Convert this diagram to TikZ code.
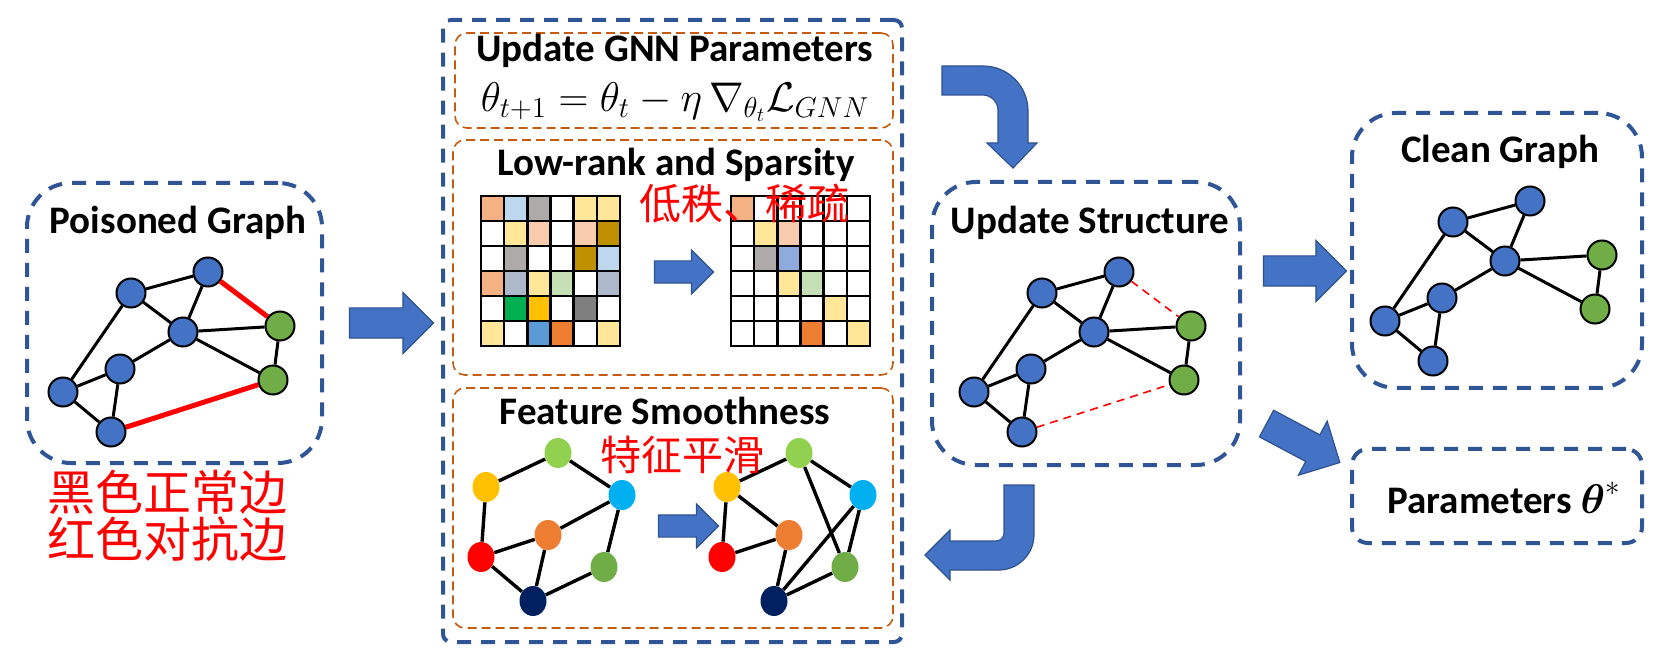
\documentclass[tikz,border=0pt]{standalone}
\usepackage{amsmath}
\usepackage{amssymb}
\usepackage{xcolor}
\usepackage{fontspec}
\setmainfont{Carlito}
\newfontfamily\cjk{Noto Sans CJK SC}
\usetikzlibrary{shapes.geometric,shapes.arrows,fit}

\definecolor{nodeblue}{HTML}{4472C4}
\definecolor{nodegreen}{HTML}{70AD47}
\definecolor{boxblue}{HTML}{2F5597}
\definecolor{boxorange}{HTML}{C55A11}
\definecolor{arrowedge}{HTML}{2F528F}
\definecolor{cpeach}{HTML}{F4B183}
\definecolor{cskyblue}{HTML}{BDD7EE}
\definecolor{cgray}{HTML}{AEAAAA}
\definecolor{cyellow}{HTML}{FFE699}
\definecolor{csalmon}{HTML}{F8CBAD}
\definecolor{cgold}{HTML}{BF9000}
\definecolor{cslate}{HTML}{ADB9CA}
\definecolor{cmint}{HTML}{C5E0B4}
\definecolor{cgreen}{HTML}{00B050}
\definecolor{camber}{HTML}{FFC000}
\definecolor{cdark}{HTML}{7F7F7F}
\definecolor{cblue}{HTML}{5B9BD5}
\definecolor{corange}{HTML}{ED7D31}
\definecolor{cperiwinkle}{HTML}{8FAADC}
\definecolor{flime}{HTML}{92D050}
\definecolor{fcyan}{HTML}{00B0F0}
\definecolor{fnavy}{HTML}{002060}

\begin{document}
\begin{tikzpicture}[x=0.5pt,y=-0.5pt,
        gnode/.style={circle,draw=black,line width=1pt,fill=nodeblue,minimum size=14.5pt,inner sep=0pt},
        gnodeg/.style={gnode,fill=nodegreen},
        gedge/.style={line width=1.5pt},
        advedge/.style={red,line width=2.5pt},
        cutedge/.style={red,line width=0.8pt,dash pattern=on 4pt off 3pt},
        fnode/.style={ellipse,minimum width=13.5pt,minimum height=15pt,inner sep=0pt},
        fedge/.style={line width=1.7pt},
        bluebox/.style={draw=boxblue,line width=2pt,dash pattern=on 7pt off 5pt,rounded corners=22pt,inner sep=0pt},
        orangebox/.style={draw=boxorange,line width=0.8pt,dash pattern=on 4.5pt off 2.5pt,rounded corners=6pt,inner sep=0pt},
        boxtitle/.style={font=\fontsize{19.5}{23}\selectfont\bfseries,inner sep=0pt},
        cjktext/.style={text=red,inner sep=0pt},
        cellline/.style={line width=1.2pt,line cap=rect},
        bigarrow/.style={single arrow,fill=nodeblue,draw=arrowedge,line width=0.6pt,inner sep=0pt,
            text height=14.5pt,text depth=0pt,single arrow head extend=7.75pt},
        smallarrow/.style={bigarrow,text height=10.5pt,single arrow head extend=5.5pt},
        bentarrow/.style={fill=nodeblue,draw=arrowedge,line width=0.6pt}]
        \useasboundingbox (0,0) rectangle (1656,652);

        \node[bluebox,fit={(27,183) (322,463)}] (poisoned) {};
        \node[bluebox,fit={(932,182) (1240,465)}] (update) {};
        \node[bluebox,fit={(1352,113) (1642,388)}] (clean) {};
        \node[bluebox,rounded corners=8pt,fit={(1352,449) (1642,543)}] (params) {};
        \node[bluebox,rounded corners=4pt,fit={(443,20) (902,642)}] (solver) {};
        \node[orangebox,fit={(455,33) (893,128)}] (gnnbox) {};
        \node[orangebox,fit={(453,140) (893,375)}] (lrbox) {};
        \node[orangebox,fit={(453,388) (893,628)}] (fsbox) {};

        \node[boxtitle] (ptitle) at (178,223) {Poisoned Graph};
        \node[boxtitle] (utitle) at (1090,223) {Update Structure};
        \node[boxtitle] (ctitle) at (1500,152) {Clean Graph};
        \node[boxtitle] (partext) at (1504,498) {Parameters $\boldsymbol{\theta}^{*}$};
        \node[boxtitle] (gnntitle) at (675,51) {Update GNN Parameters};
        \node[font=\fontsize{20.5}{23}\selectfont,inner sep=0pt] (formula) at (675,102)
            {$\theta_{t+1} = \theta_t - \eta\,\nabla_{\theta_t}\mathcal{L}_{GNN}$};
        \node[boxtitle] (lrtitle) at (676,165) {Low-rank and Sparsity};
        \node[boxtitle] (fstitle) at (665,411) {Feature Smoothness};

        \node[gnode] (pa) at (131,293) {};
        \node[gnode] (pb) at (208,272) {};
        \node[gnode] (pc) at (183,332) {};
        \node[gnode] (pd) at (120,369) {};
        \node[gnode] (pe) at (63,392) {};
        \node[gnode] (pf) at (111,432) {};
        \node[gnodeg] (pg) at (280,326) {};
        \node[gnodeg] (ph) at (273,380) {};
        \foreach \a/\b in {a/b,a/c,a/e,b/c,c/d,c/g,c/h,d/e,d/f,e/f,g/h}
            \draw[gedge] (p\a) -- (p\b);
        \draw[advedge] (pb) -- (pg);
        \draw[advedge] (pf) -- (ph);

        \begin{scope}[shift={(911,0)}]
            \node[gnode] (ua) at (131,293) {};
            \node[gnode] (ub) at (208,272) {};
            \node[gnode] (uc) at (183,332) {};
            \node[gnode] (ud) at (120,369) {};
            \node[gnode] (ue) at (63,392) {};
            \node[gnode] (uf) at (111,432) {};
            \node[gnodeg] (ug) at (280,326) {};
            \node[gnodeg] (uh) at (273,380) {};
        \end{scope}
        \foreach \a/\b in {a/b,a/c,a/e,b/c,c/d,c/g,c/h,d/e,d/f,e/f,g/h}
            \draw[gedge] (u\a) -- (u\b);
        \draw[cutedge] (ub) -- (ug);
        \draw[cutedge] (uf) -- (uh);

        \begin{scope}[shift={(1322,-71)}]
            \node[gnode] (ca) at (131,293) {};
            \node[gnode] (cb) at (208,272) {};
            \node[gnode] (cc) at (183,332) {};
            \node[gnode] (cd) at (120,369) {};
            \node[gnode] (ce) at (63,392) {};
            \node[gnode] (cf) at (111,432) {};
            \node[gnodeg] (cg) at (280,326) {};
            \node[gnodeg] (ch) at (273,380) {};
        \end{scope}
        \foreach \a/\b in {a/b,a/c,a/e,b/c,c/d,c/g,c/h,d/e,d/f,e/f,g/h}
            \draw[gedge] (c\a) -- (c\b);

        \foreach \rowlist [count=\ri from 0] in {{cpeach,cskyblue,cgray,white,cyellow,cyellow},
                {white,cyellow,csalmon,white,csalmon,cgold},{white,cgray,white,white,cgold,cskyblue},
                {cpeach,cslate,cyellow,cmint,white,cslate},{white,cgreen,camber,white,cdark,white},
                {cyellow,white,cblue,corange,white,cyellow}}
            \foreach \cellcol [count=\ci from 0] in \rowlist
                \fill[\cellcol] (481+23.17*\ci,196+25*\ri) rectangle ++(23.17,25);
        \foreach \rowlist [count=\ri from 0] in {{cpeach,white,white,white,white,white},
                {white,cyellow,csalmon,white,white,white},{white,cgray,cperiwinkle,white,white,white},
                {white,white,cyellow,cmint,white,white},{white,white,white,white,cyellow,white},
                {white,white,white,corange,white,cyellow}}
            \foreach \cellcol [count=\ci from 0] in \rowlist
                \fill[\cellcol] (731+23.17*\ci,196+25*\ri) rectangle ++(23.17,25);
        \foreach \k in {0,...,6} {
            \draw[cellline] (481+23.17*\k,196) -- ++(0,150);
            \draw[cellline] (481,196+25*\k) -- ++(139,0);
            \draw[cellline] (731+23.17*\k,196) -- ++(0,150);
            \draw[cellline] (731,196+25*\k) -- ++(139,0);
        }
        \node[smallarrow,minimum height=29.5pt] (lrarrow) at (678.5,272) {};
        \node[cjktext,font=\fontsize{21}{21}\selectfont\cjk] (lrcn) at (744,204) {低秩、稀疏};

        \node[fnode,fill=camber] (ly) at (486,487) {};
        \node[fnode,fill=flime] (ll) at (558,453) {};
        \node[fnode,fill=fcyan] (lc) at (622,495) {};
        \node[fnode,fill=corange] (lo) at (548,535) {};
        \node[fnode,fill=red] (lr) at (481,557) {};
        \node[fnode,fill=nodegreen] (lg) at (604,567) {};
        \node[fnode,fill=fnavy] (ln) at (533,601) {};
        \foreach \a/\b in {y/l,l/c,y/r,r/o,o/c,c/g,r/n,o/n,n/g}
            \draw[fedge] (l\a) -- (l\b);

        \begin{scope}[shift={(241,0)}]
            \node[fnode,fill=camber] (ry) at (486,487) {};
            \node[fnode,fill=flime] (rl) at (558,453) {};
            \node[fnode,fill=fcyan] (rc) at (622,495) {};
            \node[fnode,fill=corange] (ro) at (548,535) {};
            \node[fnode,fill=red] (rr) at (481,557) {};
            \node[fnode,fill=nodegreen] (rg) at (604,567) {};
            \node[fnode,fill=fnavy] (rn) at (533,601) {};
        \end{scope}
        \foreach \a/\b in {y/l,l/c,y/r,y/o,r/o,l/g,c/n,c/g,o/n,n/g}
            \draw[fedge] (r\a) -- (r\b);
        \node[smallarrow,minimum height=30pt] (fsarrow) at (683,526) {};
        \node[cjktext,font=\fontsize{20.5}{21}\selectfont\cjk] (fscn) at (682,455) {特征平滑};

        \node[cjktext,font=\fontsize{24}{23.5}\selectfont\cjk,align=center] (legend) at (167,516)
            {黑色正常边\\红色对抗边};

        \node[bigarrow,minimum height=42pt] (toupdate) at (384,323) {};
        \node[bigarrow,minimum height=41.5pt] (toclean) at (1297.5,271) {};
        \node[bigarrow,minimum height=41.5pt,rotate=-28] (toparams) at (1296.5,439.5) {};
        \filldraw[bentarrow] (942,66) -- (983,66) .. controls (1008,66) and (1028,86) .. (1028,111)
            -- (1028,143) -- (1037,143) -- (1013,168) -- (987,143) -- (998,143) -- (998,110)
            .. controls (998,102) and (991,95) .. (983,95) -- (942,95) -- cycle;
        \filldraw[bentarrow] (1004,485) -- (1034,485) -- (1034,535) .. controls (1034,554) and (1018,570) .. (999,570)
            -- (950,570) -- (950,580) -- (925,555) -- (950,530) -- (950,541) -- (996,541)
            .. controls (1000.5,541) and (1004,537.5) .. (1004,533) -- cycle;
    \end{tikzpicture}
\end{document}
